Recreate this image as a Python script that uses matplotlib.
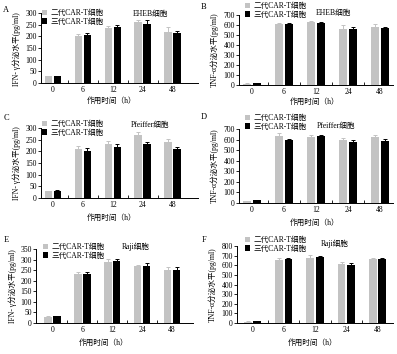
import matplotlib
matplotlib.use("Agg")
import matplotlib.pyplot as plt
import numpy as np

plt.rcParams['font.family'] = ['Liberation Serif', 'Noto Sans CJK SC']

W, H = 397, 354
groups = ["0", "6", "12", "24", "48"]
series_names = ["二代CAR-T细胞", "三代CAR-T细胞"]
colors = ["#c3c3c3", "#000000"]

# Panel data
A_gen2 = [28, 200, 235, 260, 220]
A_gen3 = [30, 207, 242, 255, 215]
A_err2 = [2, 12, 10, 8, 18]
A_err3 = [2, 8, 8, 14, 8]

B_gen2 = [15, 612, 625, 560, 580]
B_gen3 = [20, 605, 622, 555, 567]
B_err2 = [3, 10, 15, 35, 25]
B_err3 = [3, 15, 10, 20, 15]

C_gen2 = [28, 210, 231, 270, 240]
C_gen3 = [32, 200, 220, 230, 210]
C_err2 = [2, 13, 14, 15, 15]
C_err3 = [2, 15, 10, 12, 10]

D_gen2 = [20, 635, 620, 600, 625]
D_gen3 = [25, 600, 630, 580, 590]
D_err2 = [3, 30, 22, 15, 20]
D_err3 = [3, 10, 15, 20, 12]

E_gen2 = [30, 232, 290, 268, 250]
E_gen3 = [32, 230, 292, 270, 253]
E_err2 = [2, 10, 12, 8, 15]
E_err3 = [2, 12, 10, 15, 12]

F_gen2 = [15, 655, 680, 615, 660]
F_gen3 = [20, 665, 685, 605, 660]
F_err2 = [3, 20, 25, 15, 15]
F_err3 = [3, 15, 15, 15, 15]

ifn_label = "IFN- γ分泌水平(pg/ml)"
tnf_label = "TNF-α分泌水平(pg/ml)"
xlabel = "作用时间（h）"

panels = [
    dict(tag="A", g2=A_gen2, g3=A_gen3, e2=A_err2, e3=A_err3, ymax=300, step=50, ylab=ifn_label, cell="EHEB细胞",
         box=(41, 13, 198, 83), xlim=(-0.4, 4.85), tagpos=(6, 10), leg=(42, 9), cellpos=(150, 14),
         ylabpos=(17, 49), xlabpos=(112, 101)),
    dict(tag="B", g2=B_gen2, g3=B_gen3, e2=B_err2, e3=B_err3, ymax=700, step=100, ylab=tnf_label, cell="EHEB细胞",
         box=(239, 15, 393, 85), xlim=(-0.4, 4.4), tagpos=(204, 7), leg=(245, 2), cellpos=(333, 13),
         ylabpos=(215, 50), xlabpos=(315, 102)),
    dict(tag="C", g2=C_gen2, g3=C_gen3, e2=C_err2, e3=C_err3, ymax=300, step=50, ylab=ifn_label, cell="Pfeiffer细胞",
         box=(41, 128, 198, 198), xlim=(-0.4, 4.85), tagpos=(6, 118), leg=(42, 120), cellpos=(150, 125),
         ylabpos=(17, 163), xlabpos=(112, 218)),
    dict(tag="D", g2=D_gen2, g3=D_gen3, e2=D_err2, e3=D_err3, ymax=700, step=100, ylab=tnf_label, cell="Pfeiffer细胞",
         box=(239, 129, 393, 203), xlim=(-0.4, 4.4), tagpos=(204, 117), leg=(245, 114), cellpos=(336, 126),
         ylabpos=(215, 166), xlabpos=(315, 223)),
    dict(tag="E", g2=E_gen2, g3=E_gen3, e2=E_err2, e3=E_err3, ymax=350, step=50, ylab=ifn_label, cell="Raji细胞",
         box=(36, 249, 193, 323), xlim=(-0.55, 4.7), tagpos=(6, 240), leg=(43, 243), cellpos=(136, 247),
         ylabpos=(13, 286), xlabpos=(104, 343)),
    dict(tag="F", g2=F_gen2, g3=F_gen3, e2=F_err2, e3=F_err3, ymax=800, step=100, ylab=tnf_label, cell="Raji细胞",
         box=(237, 246, 393, 323), xlim=(-0.5, 4.5), tagpos=(204, 240), leg=(245, 236), cellpos=(335, 244),
         ylabpos=(213, 285), xlabpos=(313, 343)),
]

fig = plt.figure(figsize=(W / 100, H / 100), dpi=100)
fig.patch.set_facecolor("white")

def fx(x):
    return x / W

def fy(y):
    return 1 - y / H

x = np.arange(len(groups))
bw = 0.25
off = 0.15
fs_tick = 5.5
fs_lab = 5.5

for p in panels:
    l, t, r, b = p["box"]
    ax = fig.add_axes([fx(l), fy(b), fx(r) - fx(l), (b - t) / H])
    for i, (vals, errs) in enumerate([(p["g2"], p["e2"]), (p["g3"], p["e3"])]):
        pos = x + (-off if i == 0 else off)
        ax.bar(pos, vals, width=bw, color=colors[i], label=series_names[i], zorder=2)
        ax.errorbar(pos, vals, yerr=[np.zeros(len(errs)), errs], fmt="none",
                    ecolor=colors[i], elinewidth=0.7, capsize=1.5, capthick=0.7, zorder=1)
    ax.set_xlim(*p["xlim"])
    ax.set_ylim(0, p["ymax"])
    ax.set_yticks(np.arange(0, p["ymax"] + 1, p["step"]))
    ax.set_xticks(x)
    ax.set_xticklabels(groups)
    ax.set_xticks(x[:-1] + 0.5, minor=True)
    ax.tick_params(axis="x", which="major", length=0, pad=2, labelsize=fs_tick)
    ax.tick_params(axis="x", which="minor", direction="in", length=2, width=0.6)
    ax.tick_params(axis="y", direction="out", length=2, width=0.6, pad=1, labelsize=fs_tick)
    for s in ["top", "right"]:
        ax.spines[s].set_visible(False)
    for s in ["left", "bottom"]:
        ax.spines[s].set_linewidth(0.7)
    ax.patch.set_alpha(0)

    ax.legend(loc="upper left", bbox_to_anchor=(fx(p["leg"][0]), fy(p["leg"][1])),
              bbox_transform=fig.transFigure, frameon=False, fontsize=5.5,
              handlelength=0.7, handleheight=0.7, handletextpad=0.4, labelspacing=0.1,
              borderpad=0, borderaxespad=0)

    fig.text(fx(p["tagpos"][0]), fy(p["tagpos"][1]), p["tag"], fontsize=6, ha="center", va="center")
    fig.text(fx(p["cellpos"][0]), fy(p["cellpos"][1]), p["cell"], fontsize=5.5, ha="center", va="center")
    fig.text(fx(p["ylabpos"][0]), fy(p["ylabpos"][1]), p["ylab"], fontsize=fs_lab, rotation=90,
             ha="center", va="center")
    fig.text(fx(p["xlabpos"][0]), fy(p["xlabpos"][1]), xlabel, fontsize=fs_lab, ha="center", va="center")

fig.savefig("out.png", dpi=100, facecolor="white")
